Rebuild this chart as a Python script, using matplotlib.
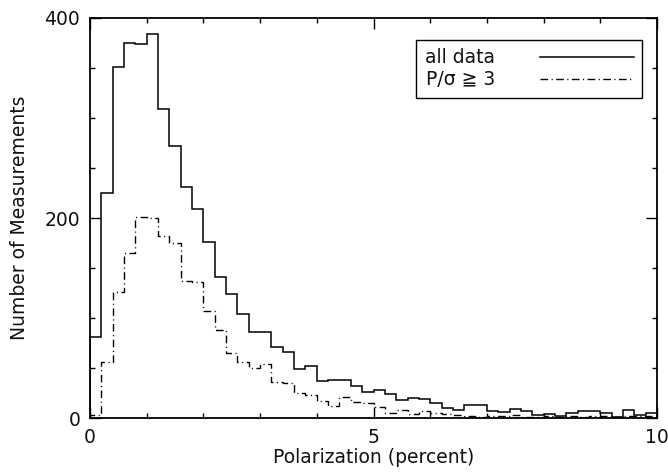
import numpy as np
import matplotlib
matplotlib.use("Agg")
import matplotlib.pyplot as plt
from matplotlib.ticker import MultipleLocator

plt.rcParams['font.family'] = ['DejaVu Sans', 'Noto Sans CJK JP']

bin_width = 0.2
n_bins = 50
edges = np.arange(n_bins + 1) * bin_width

all_data = [81, 225, 351, 375, 374, 384, 309, 272, 231, 209,
            176, 141, 124, 104, 86, 86, 71, 66, 49, 52,
            37, 38, 38, 32, 26, 28, 24, 18, 20, 19,
            15, 10, 8, 13, 13, 7, 6, 9, 7, 3,
            4, 2, 5, 7, 7, 5, 1, 8, 3, 5]

snr3 = [3, 56, 126, 165, 201, 200, 182, 175, 137, 136,
        107, 88, 65, 56, 50, 54, 36, 35, 25, 23,
        17, 12, 21, 16, 15, 11, 5, 8, 4, 7,
        5, 4, 3, 2, 1, 2, 2, 3, 1, 1,
        2, 1, 2, 1, 2, 2, 1, 2, 2, 2]

labels = ["all data", "P/\u03c3 \u2267 3"]
x_ticks = [0, 5, 10]
y_ticks = [0, 200, 400]

FS = 13.5
TXT = '#111111'

fig = plt.figure(figsize=(6.68, 4.73), dpi=100)
ax = fig.add_axes([90/668, 55/473, 567/668, 400/473])

ax.stairs(all_data, edges, baseline=0, color='black', linewidth=1.1,
          label=labels[0])
ax.stairs(snr3, edges, baseline=0, color='black', linewidth=1.0,
          linestyle=(0, (5.5, 2.5, 0.8, 2.5)), label=labels[1])

ax.set_xlim(0, 10)
ax.set_ylim(0, 400)
ax.set_xticks(x_ticks)
ax.set_yticks(y_ticks)
ax.xaxis.set_minor_locator(MultipleLocator(1))
ax.yaxis.set_minor_locator(MultipleLocator(50))
ax.tick_params(which='both', direction='in', top=True, right=True,
               width=1.0, labelsize=FS, labelcolor=TXT)
ax.tick_params(which='major', length=8)
ax.tick_params(which='minor', length=3.8)
ax.tick_params(axis='x', which='major', pad=7)
ax.tick_params(axis='y', which='major', pad=7)
for s in ax.spines.values():
    s.set_linewidth(1.3)

ax.set_xlabel("Polarization (percent)", fontsize=FS, labelpad=1, color=TXT)
ax.set_ylabel("Number of Measurements", fontsize=FS, labelpad=11, color=TXT)

leg = ax.legend(loc='upper right', bbox_to_anchor=(0.9735, 0.945),
                markerfirst=False, fontsize=FS, handlelength=5.0,
                handletextpad=2.4, borderpad=0.45, labelspacing=0.15,
                fancybox=False, framealpha=1, edgecolor='black',
                borderaxespad=0)
leg.get_frame().set_linewidth(1.0)
for t in leg.get_texts():
    t.set_color(TXT)

fig.savefig("out.png", dpi=100)
